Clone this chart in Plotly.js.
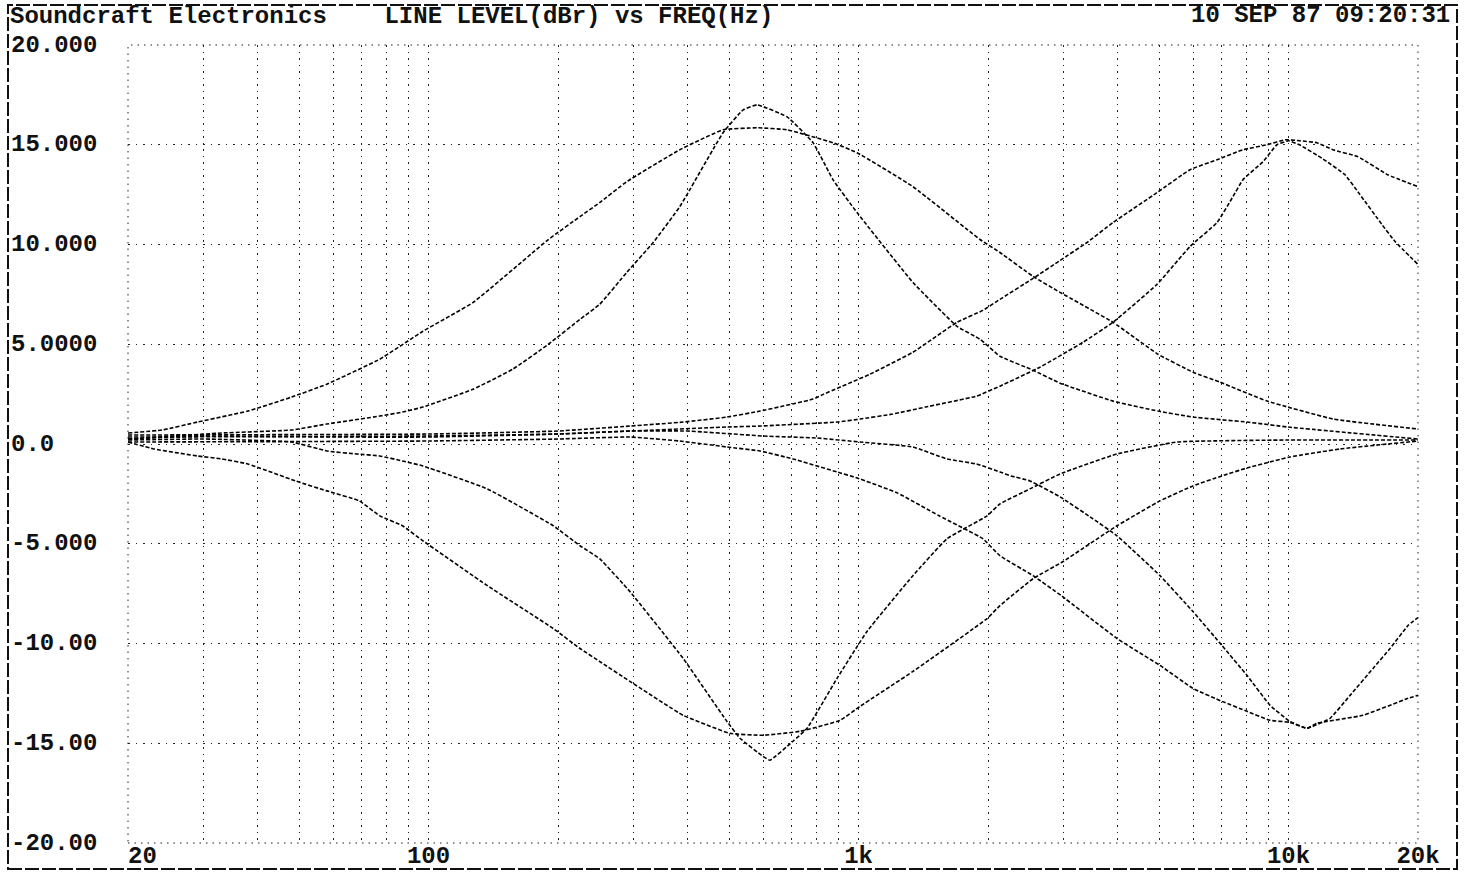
<!DOCTYPE html>
<html>
<head>
<meta charset="utf-8">
<script src="https://cdn.plot.ly/plotly-3.0.1.min.js"></script>
<style>html,body{margin:0;padding:0;background:#fff;}#chart{width:1472px;height:873px;}</style>
</head>
<body>
<div id="chart"></div>
<script>
// ---- data (Hz, dBr) ----
const lfBroadBoostF  = [20,24,29,38,48,58,77,97,127,190,225,250,289,384,484,581,682,872,992,1338,1916,2132,2546,2942,3906,4970,5994,6926,8912,9972,12686,20000];
const lfBroadBoostDb = [0.55,0.7,1.1,1.65,2.35,3.0,4.25,5.65,7.1,10.25,11.4,12.1,13.15,14.75,15.75,15.85,15.75,15.1,14.6,12.9,10.25,9.6,8.4,7.6,6.1,4.5,3.6,3.1,2.15,1.85,1.25,0.75];

const lfNarrowBoostF  = [20,33,48,58,77,87,97,127,157,190,225,250,289,333,384,484,539,581,682,784,872,992,1338,1694,1916,2132,2546,2942,3906,4970,5994,8006,9972,20000];
const lfNarrowBoostDb = [0.25,0.55,0.7,1.0,1.4,1.6,1.85,2.75,3.75,5.0,6.25,7.0,8.6,10.1,11.9,15.6,16.75,17.0,16.4,15.1,13.25,11.6,8.1,5.9,5.25,4.4,3.7,3.05,2.15,1.65,1.35,1.1,0.85,0.25];

const lfBroadCutF  = [20,23,29,33,38,49,58,69,77,87,97,137,195,225,250,294,391,502,599,731,906,1008,1338,1990,2132,2546,2985,3990,5024,5994,7000,8006,10070,13160,20000];
const lfBroadCutDb = [0.1,-0.25,-0.6,-0.75,-1.0,-1.85,-2.35,-2.85,-3.6,-4.1,-4.85,-7.1,-9.25,-10.25,-10.9,-11.9,-13.6,-14.5,-14.6,-14.4,-13.85,-13.15,-11.4,-8.75,-8.1,-6.75,-5.9,-4.1,-2.85,-2.1,-1.6,-1.2,-0.65,-0.25,0.15];

const lfNarrowCutF  = [20,30,48,58,68,77,87,97,137,195,225,250,294,391,494,530,599,622,704,759,891,1046,1338,1606,1990,2132,2504,2942,3990,5500,10000,20000];
const lfNarrowCutDb = [0.2,0.25,0.1,-0.35,-0.5,-0.6,-0.85,-1.1,-2.25,-4.1,-5.1,-5.75,-7.4,-10.75,-13.9,-14.75,-15.65,-15.85,-14.9,-14.25,-11.75,-9.4,-6.6,-4.75,-3.6,-3.0,-2.25,-1.5,-0.5,0.1,0.2,0.2];

const hfBroadBoostF  = [20,100,200,294,391,494,590,784,830,1063,1338,1694,1946,2132,2546,2942,3398,3906,4943,5900,6818,7834,8912,9812,10632,11641,12686,14502,17000,20000];
const hfBroadBoostDb = [0.45,0.5,0.65,0.9,1.1,1.35,1.65,2.25,2.5,3.5,4.6,6.1,6.7,7.25,8.3,9.2,10.1,11.1,12.6,13.75,14.25,14.75,15.0,15.25,15.2,15.1,14.75,14.4,13.5,12.9];

const hfNarrowBoostF  = [20,100,200,294,494,590,891,1008,1200,1430,1880,2132,2642,3327,3906,4943,5900,6818,7426,7834,8720,9398,10000,10600,12000,13524,14660,16489,17686,20000];
const hfNarrowBoostDb = [0.35,0.4,0.5,0.65,0.85,0.9,1.1,1.25,1.5,1.85,2.4,2.9,3.85,5.1,6.1,8.0,9.9,11.1,12.4,13.25,14.15,15.0,15.2,15.0,14.3,13.5,12.5,11.0,10.15,9.0];

const hfBroadCutF  = [20,100,200,294,384,494,590,704,891,992,1230,1540,1946,2132,2546,2960,3990,5024,5994,7000,8006,9058,10070,11040,11641,14900,18960,20000];
const hfBroadCutDb = [0.1,0.15,0.25,0.35,0.15,-0.15,-0.35,-0.75,-1.4,-1.7,-2.45,-3.6,-4.75,-5.6,-6.6,-7.6,-9.75,-11.1,-12.25,-12.9,-13.4,-13.85,-13.95,-14.25,-14.0,-13.6,-12.75,-12.6];

const hfNarrowCutF  = [20,30,60,100,200,294,400,600,800,1008,1338,1606,1880,2132,2260,2504,2942,3508,3990,5024,5994,7000,8006,9058,10070,11040,12487,13900,15720,17220,18960,20000];
const hfNarrowCutDb = [0.25,0.4,0.35,0.35,0.5,0.65,0.65,0.4,0.3,0.1,-0.15,-0.75,-1.0,-1.4,-1.6,-1.85,-2.65,-3.75,-4.6,-6.6,-8.4,-10.1,-11.6,-13.1,-13.9,-14.25,-13.75,-12.6,-11.25,-10.25,-9.1,-8.7];

const xTickVals = [20,30,40,50,60,70,80,90,100,200,300,400,500,600,700,800,900,1000,2000,3000,4000,5000,6000,7000,8000,9000,10000,20000];
const xTickText = ['\u00a0\u00a020','','','','','','','','100','','','','','','','','','1k','','','','','','','','','10k','20k'];
const yTickVals = [20,15,10,5,0,-5,-10,-15,-20];
const yTickText = ['20.000','15.000','10.000','5.0000','0.0','-5.000','-10.00','-15.00','-20.00'];
const titleText = 'Soundcraft Electronics\u00a0\u00a0\u00a0 LINE LEVEL(dBr) vs FREQ(Hz)';
const dateText = '10 SEP 87 09:20:31';

const curves = [
  [lfBroadBoostF, lfBroadBoostDb],
  [lfNarrowBoostF, lfNarrowBoostDb],
  [lfBroadCutF, lfBroadCutDb],
  [lfNarrowCutF, lfNarrowCutDb],
  [hfBroadBoostF, hfBroadBoostDb],
  [hfNarrowBoostF, hfNarrowBoostDb],
  [hfBroadCutF, hfBroadCutDb],
  [hfNarrowCutF, hfNarrowCutDb]
];

const FONT = 'Liberation Mono, DejaVu Sans Mono, monospace';
const FS = 24;

const traces = curves.map(c => ({
  x: c[0], y: c[1], type: 'scatter', mode: 'lines',
  line: {color: '#000', width: 1.6, dash: '4px,2px', shape: 'spline', smoothing: 0.35},
  hoverinfo: 'skip', showlegend: false
}));

// plot area in pixels
const L = 128, R = 1418, T = 45, B = 843, W = 1472, H = 873;
const px = v => (v - L) / (R - L);
const py = v => (B - v) / (B - T);

const annotations = yTickVals.map((v, i) => ({
  xref: 'paper', yref: 'y', x: px(9), y: v, xanchor: 'left', yanchor: 'middle',
  text: yTickText[i], showarrow: false,
  font: {family: FONT, size: FS, color: '#111', weight: 'bold'}
}));
annotations.push({
  xref: 'paper', yref: 'paper', x: px(1452), y: py(16), xanchor: 'right', yanchor: 'middle',
  text: dateText, showarrow: false, font: {family: FONT, size: FS, color: '#111', weight: 'bold'}
});

const layout = {
  width: W, height: H,
  paper_bgcolor: '#fff', plot_bgcolor: '#fff',
  margin: {l: L, r: W - R, t: T, b: H - B, autoexpand: false},
  title: {
    text: titleText, x: 10 / W, xanchor: 'left', xref: 'container',
    y: 1 - 15 / H, yanchor: 'middle', yref: 'container',
    font: {family: FONT, size: FS, color: '#111', weight: 'bold'}
  },
  showlegend: false,
  xaxis: {
    type: 'log', range: [Math.log10(20), Math.log10(20000)],
    tickmode: 'array', tickvals: xTickVals, ticktext: xTickText,
    showgrid: true, gridcolor: '#222', gridwidth: 1, griddash: '1.5px,5px',
    zeroline: false, showline: false, ticks: '', ticklen: 0,
    ticklabelstandoff: -5,
    tickfont: {family: FONT, size: FS, color: '#111', weight: 'bold'},
    automargin: false, fixedrange: true
  },
  yaxis: {
    range: [-20, 20], tickmode: 'array', tickvals: yTickVals, showticklabels: false,
    showgrid: true, gridcolor: '#222', gridwidth: 1, griddash: '1.5px,6px',
    zeroline: false, showline: false, ticks: '',
    automargin: false, fixedrange: true
  },
  annotations: annotations,
  shapes: [
    {type: 'rect', xref: 'paper', yref: 'paper', x0: 0, x1: 1, y0: 0, y1: 1,
     line: {color: '#222', width: 1, dash: '1.5px,5px'}, fillcolor: 'rgba(0,0,0,0)', layer: 'below'},
    {type: 'rect', xref: 'paper', yref: 'paper', x0: px(8), x1: px(1457), y0: py(869), y1: py(5),
     line: {color: '#111', width: 2, dash: '14px,3px'}, fillcolor: 'rgba(0,0,0,0)', layer: 'above'}
  ]
};

Plotly.newPlot('chart', traces, layout, {staticPlot: true, displayModeBar: false});
</script>
</body>
</html>
